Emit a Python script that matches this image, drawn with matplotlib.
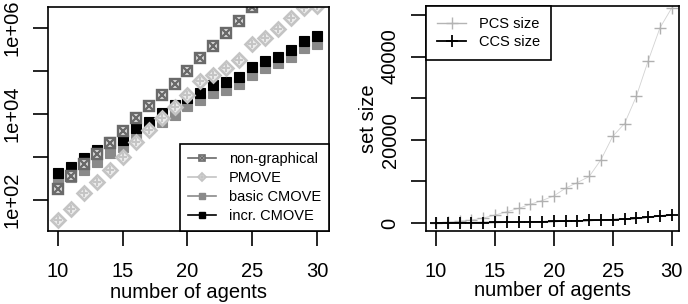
import numpy as np
import matplotlib
matplotlib.use("Agg")
import matplotlib.pyplot as plt
from matplotlib.lines import Line2D

plt.rcParams['font.family'] = ['Liberation Sans', 'DejaVu Sans']

agents = list(range(10, 31))

# log10 of runtimes (left panel)
nongraph_log = [2.26, 2.55, 2.84, 3.08, 3.32, 3.61, 3.90, 4.19, 4.44, 4.70, 5.01,
                5.31, 5.58, 5.88, 6.17, 6.48, 6.78, 7.08, 7.38, 7.68, 7.98]
pmove_log = [1.53, 1.79, 2.16, 2.43, 2.71, 3.01, 3.36, 3.63, 3.90, 4.17, 4.44,
             4.77, 4.91, 5.06, 5.26, 5.64, 5.76, 5.97, 6.23, 6.46, 6.51]
basic_log = [2.40, 2.54, 2.70, 2.89, 3.10, 3.24, 3.47, 3.70, 3.82, 3.98, 4.19,
             4.33, 4.48, 4.56, 4.71, 4.91, 5.06, 5.18, 5.33, 5.53, 5.63]
incr_log = [2.62, 2.76, 2.97, 3.16, 3.34, 3.40, 3.67, 3.82, 4.02, 4.21, 4.37,
            4.48, 4.67, 4.75, 4.87, 5.10, 5.23, 5.33, 5.50, 5.70, 5.81]

# right panel set sizes
pcs_size = [100, 200, 400, 700, 1200, 1900, 2700, 3500, 4500, 5400, 6500,
            8380, 9730, 11180, 15220, 20850, 23910, 30450, 38960, 46900, 51700]
ccs_size = [20, 30, 50, 70, 100, 130, 170, 210, 260, 310, 370,
            440, 520, 600, 700, 800, 920, 1100, 1400, 1700, 1900]

left_labels = ["non-graphical", "PMOVE", "basic CMOVE", "incr. CMOVE"]
right_labels = ["PCS size", "CCS size"]
xticks = [10, 15, 20, 25, 30]

fig = plt.figure(figsize=(6.88, 3.04), dpi=100)
ax1 = fig.add_axes([48/688, 1-231/304, 281/688, 224/304])
ax2 = fig.add_axes([426/688, 1-231/304, 253/688, 225/304])

ng_col = '#6a6a6a'
pm_col = '#c4c4c4'
ba_col = '#8a8a8a'

ng = 10 ** np.array(nongraph_log)
pm = 10 ** np.array(pmove_log)
ba = 10 ** np.array(basic_log)
inc = 10 ** np.array(incr_log)

ms = 7.6
ax1.plot(agents, ba, ls='none', marker='s', ms=ms, mfc=ba_col, mec=ba_col, mew=0.8)
ax1.plot(agents, inc, ls='none', marker='s', ms=ms, mfc='black', mec='black', mew=0.8)
ax1.plot(agents, ng, ls='none', marker='s', ms=ms, mfc='#e6e6e6', mec=ng_col, mew=1.7)
ax1.plot(agents, ng, ls='none', marker='x', ms=ms*0.75, mec=ng_col, mew=1.7)
ax1.plot(agents, pm, ls='none', marker='D', ms=ms*0.95, mfc='#ececec', mec=pm_col, mew=1.9)
ax1.plot(agents, pm, ls='none', marker='+', ms=ms*0.8, mec=pm_col, mew=1.4)

ax1.set_yscale('log')
ax1.set_ylim(10 ** 1.28, 10 ** 6.49)
ax1.set_xlim(9.23, 30.93)
ax1.yaxis.set_major_locator(matplotlib.ticker.FixedLocator([1e2, 1e3, 1e4, 1e5, 1e6]))
ax1.yaxis.set_minor_locator(matplotlib.ticker.NullLocator())
ax1.set_yticklabels(["1e+02", "", "1e+04", "", "1e+06"], rotation=90, va='center')
ax1.set_xticks(xticks)
ax1.set_xticklabels([str(t) for t in xticks])
ax1.set_xlabel("number of agents", fontsize=14.5, labelpad=2)

sm = 0.6
h_ng = (Line2D([], [], color=ng_col, lw=1.2, marker='s', ms=ms*sm, mfc='#e6e6e6', mec=ng_col, mew=1.2),
        Line2D([], [], ls='none', marker='x', ms=ms*sm*0.75, mec=ng_col, mew=1.2))
h_pm = (Line2D([], [], color=pm_col, lw=1.2, marker='D', ms=ms*sm, mfc='#ececec', mec=pm_col, mew=1.3),
        Line2D([], [], ls='none', marker='+', ms=ms*sm*0.8, mec=pm_col, mew=1.1))
h_ba = Line2D([], [], color=ba_col, lw=1.2, marker='s', ms=ms*sm, mfc=ba_col, mec=ba_col)
h_in = Line2D([], [], color='black', lw=1.2, marker='s', ms=ms*sm, mfc='black', mec='black')
leg1 = ax1.legend([h_ng, h_pm, h_ba, h_in], left_labels, loc='lower right',
                  bbox_to_anchor=(1, 0), borderaxespad=0, fontsize=10.5,
                  frameon=True, fancybox=False, edgecolor='black', framealpha=1,
                  handlelength=1.9, handletextpad=0.9, labelspacing=0.35,
                  borderpad=0.55)
leg1.get_frame().set_linewidth(1.2)

# right panel
ax2.plot(agents, pcs_size, color='#d2d2d2', lw=0.6, marker='+', ms=9, mew=1.0, mec='#b0b0b0')
ax2.plot(agents, ccs_size, color='black', lw=1.0, marker='+', ms=9, mew=1.3)
ax2.set_xlim(9.15, 30.62)
ax2.set_ylim(-1930, 52170)
ax2.set_yticks([0, 10000, 20000, 30000, 40000, 50000])
ax2.set_yticklabels(["0", "", "20000", "", "40000", ""], rotation=90, va='center')
ax2.set_xticks(xticks)
ax2.set_xticklabels([str(t) for t in xticks])
ax2.set_xlabel("number of agents", fontsize=14.5, labelpad=0)
ax2.set_ylabel("set size", fontsize=14.5, labelpad=2)
h_p = Line2D([], [], color='#b4b4b4', lw=1.0, marker='+', ms=9, mew=1.0)
h_c = Line2D([], [], color='black', lw=1.3, marker='+', ms=9, mew=1.3)
leg2 = ax2.legend([h_p, h_c], right_labels, loc='upper left', bbox_to_anchor=(0, 1),
                  borderaxespad=0, fontsize=10.5, frameon=True, fancybox=False,
                  edgecolor='black', framealpha=1, handlelength=2.0,
                  handletextpad=0.9, labelspacing=0.3, borderpad=0.75)
leg2.get_frame().set_linewidth(1.2)

for ax in (ax1, ax2):
    for s in ax.spines.values():
        s.set_linewidth(1.2)
    ax.tick_params(axis='both', direction='out', length=11, width=1.2,
                   labelsize=14.5)
    ax.tick_params(axis='x', pad=11)
    ax.tick_params(axis='y', pad=8)

fig.savefig("out.png", dpi=100)
